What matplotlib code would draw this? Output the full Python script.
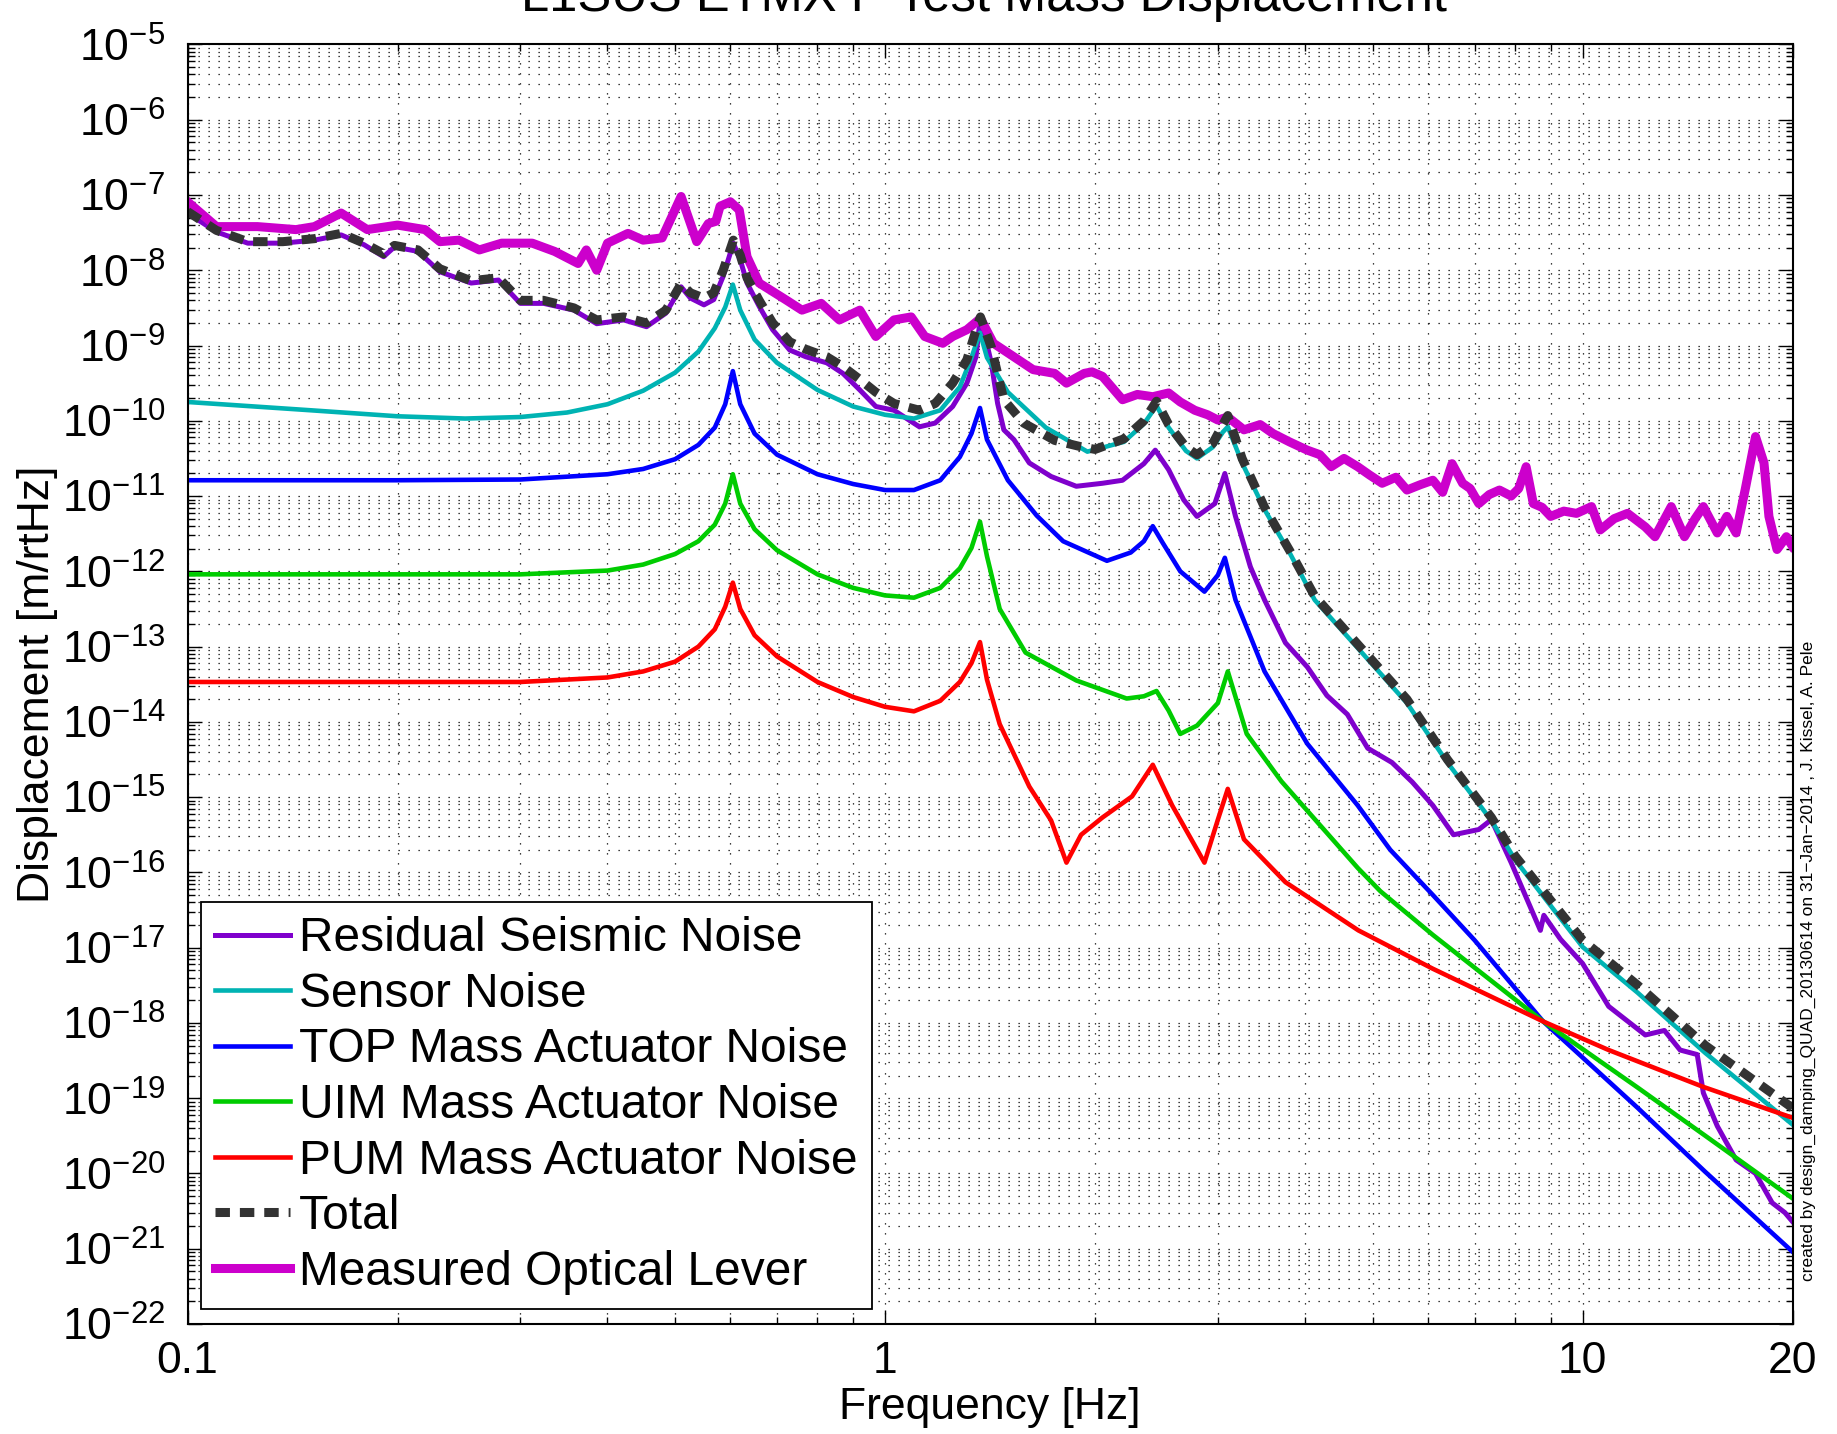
import matplotlib
matplotlib.use('Agg')
import matplotlib.pyplot as plt
import numpy as np
from matplotlib.ticker import FixedLocator, FuncFormatter, LogLocator, NullFormatter

# ---- data (log10 of displacement in m/rtHz) ----
seis_f = [0.1, 0.11, 0.122, 0.137, 0.152, 0.166, 0.179, 0.191, 0.198, 0.214,
          0.23, 0.255, 0.279, 0.30, 0.324, 0.358, 0.386, 0.422, 0.455, 0.485,
          0.51, 0.526, 0.55, 0.568, 0.586, 0.606, 0.62, 0.634, 0.66, 0.69,
          0.73, 0.77, 0.825, 0.87, 0.92, 0.97, 1.03, 1.12, 1.18, 1.25,
          1.31, 1.35, 1.37, 1.42, 1.45, 1.48, 1.53, 1.61, 1.73, 1.88,
          2.05, 2.19, 2.35, 2.44, 2.55, 2.68, 2.8, 2.97, 3.07, 3.18,
          3.34, 3.5, 3.75, 4.03, 4.3, 4.6, 4.92, 5.33, 5.7, 6.1,
          6.53, 7.1, 7.4, 7.9, 8.7, 8.8, 9.3, 10, 10.9, 12.3,
          13.1, 13.8, 14.6, 14.9, 15.6, 16.6, 17.7, 18.7, 19.5, 20]
seis_log = [-7.24, -7.49, -7.64, -7.64, -7.60, -7.53, -7.66, -7.82, -7.69, -7.75,
            -8.02, -8.17, -8.13, -8.44, -8.44, -8.53, -8.71, -8.66, -8.75, -8.57,
            -8.22, -8.37, -8.46, -8.39, -8.08, -7.64, -7.86, -8.17, -8.48, -8.79,
            -9.06, -9.15, -9.23, -9.37, -9.59, -9.81, -9.86, -10.08, -10.03, -9.81,
            -9.50, -9.15, -8.61, -9.23, -9.77, -10.12, -10.25, -10.56, -10.74, -10.87,
            -10.83, -10.79, -10.57, -10.39, -10.65, -11.05, -11.27, -11.10, -10.70, -11.27,
            -11.94, -12.38, -12.95, -13.27, -13.65, -13.90, -14.35, -14.54, -14.80, -15.11,
            -15.50, -15.43, -15.30, -15.87, -16.77, -16.57, -16.89, -17.21, -17.78, -18.16,
            -18.10, -18.36, -18.42, -18.93, -19.37, -19.82, -20.00, -20.39, -20.52, -20.64]

sens_f = [0.1, 0.15, 0.2, 0.25, 0.3, 0.35, 0.4, 0.45, 0.5, 0.54,
          0.57, 0.59, 0.605, 0.62, 0.65, 0.7, 0.8, 0.9, 1.0, 1.1,
          1.2, 1.28, 1.33, 1.368, 1.4, 1.5, 1.7, 1.95, 2.2, 2.35,
          2.45, 2.55, 2.7, 2.8, 2.95, 3.05, 3.1, 3.25, 3.5, 3.8,
          4.13, 5.6, 6.4, 7.4, 8.0, 10, 12, 15, 20]
sens_log = [-9.75, -9.86, -9.94, -9.97, -9.95, -9.89, -9.78, -9.60, -9.36, -9.08,
            -8.77, -8.49, -8.19, -8.53, -8.92, -9.23, -9.59, -9.81, -9.92, -9.97,
            -9.86, -9.55, -9.16, -8.83, -9.16, -9.62, -10.09, -10.41, -10.28, -10.04,
            -9.80, -10.09, -10.40, -10.50, -10.35, -10.15, -10.08, -10.56, -11.18, -11.75,
            -12.38, -13.75, -14.54, -15.31, -15.83, -16.99, -17.60, -18.40, -19.35]

top_f = [0.1, 0.2, 0.3, 0.4, 0.45, 0.5, 0.54, 0.57, 0.59, 0.605,
         0.62, 0.65, 0.7, 0.8, 0.9, 1.0, 1.1, 1.2, 1.28, 1.33,
         1.368, 1.4, 1.5, 1.65, 1.8, 2.08, 2.25, 2.35, 2.42, 2.5,
         2.65, 2.87, 3.0, 3.07, 3.18, 3.5, 4.03, 4.76, 5.3, 6.1,
         7.0, 8.78, 12, 15, 20]
top_log = [-10.79, -10.79, -10.78, -10.71, -10.64, -10.51, -10.32, -10.09, -9.78, -9.34,
           -9.78, -10.17, -10.45, -10.71, -10.84, -10.92, -10.92, -10.79, -10.48, -10.17,
           -9.83, -10.25, -10.79, -11.26, -11.60, -11.86, -11.75, -11.60, -11.40, -11.62,
           -12.00, -12.27, -12.05, -11.82, -12.38, -13.33, -14.29, -15.11, -15.70, -16.30,
           -16.90, -17.98, -19.13, -19.98, -21.04]

uim_f = [0.1, 0.2, 0.3, 0.4, 0.45, 0.5, 0.54, 0.57, 0.59, 0.605,
         0.62, 0.65, 0.7, 0.8, 0.9, 1.0, 1.1, 1.2, 1.28, 1.33,
         1.368, 1.4, 1.46, 1.59, 1.88, 2.22, 2.35, 2.45, 2.55, 2.65,
         2.8, 3.0, 3.1, 3.3, 3.7, 4.76, 5.13, 6.1, 8.78, 12,
         15, 20]
uim_log = [-12.04, -12.04, -12.04, -11.99, -11.91, -11.77, -11.60, -11.38, -11.10, -10.71,
           -11.10, -11.44, -11.72, -12.04, -12.22, -12.32, -12.35, -12.22, -11.96, -11.69,
           -11.34, -11.80, -12.50, -13.08, -13.45, -13.69, -13.66, -13.59, -13.85, -14.16,
           -14.05, -13.75, -13.33, -14.16, -14.79, -15.94, -16.25, -16.83, -17.98, -18.86,
           -19.50, -20.33]

pum_f = [0.1, 0.2, 0.3, 0.4, 0.45, 0.5, 0.54, 0.57, 0.59, 0.605,
         0.62, 0.65, 0.7, 0.8, 0.9, 1.0, 1.1, 1.2, 1.28, 1.33,
         1.368, 1.4, 1.46, 1.61, 1.73, 1.82, 1.91, 2.05, 2.26, 2.42,
         2.58, 2.87, 3.0, 3.1, 3.27, 3.75, 4.77, 6.1, 8.78, 10.9,
         14.9, 20]
pum_log = [-13.47, -13.47, -13.47, -13.41, -13.33, -13.20, -13.00, -12.77, -12.47, -12.15,
           -12.50, -12.85, -13.13, -13.47, -13.67, -13.80, -13.86, -13.72, -13.47, -13.22,
           -12.94, -13.44, -14.03, -14.86, -15.31, -15.87, -15.50, -15.27, -14.99, -14.57,
           -15.11, -15.87, -15.30, -14.89, -15.56, -16.13, -16.77, -17.28, -17.98, -18.36,
           -18.85, -19.26]

tot_f = [0.1, 0.11, 0.122, 0.137, 0.152, 0.166, 0.179, 0.191, 0.198, 0.214,
         0.23, 0.255, 0.279, 0.30, 0.324, 0.358, 0.386, 0.422, 0.455, 0.485,
         0.51, 0.526, 0.55, 0.568, 0.586, 0.606, 0.62, 0.634, 0.66, 0.69,
         0.73, 0.77, 0.825, 0.87, 0.92, 0.97, 1.03, 1.12, 1.18, 1.25,
         1.31, 1.36, 1.37, 1.42, 1.48, 1.58, 1.75, 1.9, 2.0, 2.2,
         2.35, 2.45, 2.55, 2.7, 2.8, 2.95, 3.05, 3.1, 3.25, 3.5,
         3.8, 4.13, 5.6, 6.4, 7.4, 8.0, 10, 12, 15, 20]
tot_log = [-7.22, -7.47, -7.62, -7.62, -7.58, -7.51, -7.64, -7.78, -7.67, -7.73,
           -7.98, -8.14, -8.10, -8.40, -8.40, -8.50, -8.66, -8.62, -8.70, -8.53,
           -8.18, -8.30, -8.37, -8.30, -8.00, -7.60, -7.80, -8.10, -8.40, -8.70,
           -8.95, -9.05, -9.15, -9.28, -9.45, -9.62, -9.77, -9.86, -9.77, -9.50,
           -9.19, -8.70, -8.62, -9.02, -9.72, -10.03, -10.26, -10.34, -10.38, -10.24,
           -10.00, -9.74, -10.05, -10.35, -10.45, -10.30, -10.05, -9.93, -10.50, -11.15,
           -11.72, -12.33, -13.70, -14.50, -15.27, -15.78, -16.90, -17.50, -18.30, -19.13]

olev_f = [0.1, 0.11, 0.126, 0.143, 0.152, 0.166, 0.181, 0.20, 0.219, 0.23,
          0.245, 0.262, 0.282, 0.312, 0.336, 0.363, 0.373, 0.386, 0.40, 0.428,
          0.45, 0.479, 0.51, 0.537, 0.558, 0.572, 0.58, 0.60, 0.618, 0.634,
          0.66, 0.72, 0.76, 0.81, 0.86, 0.92, 0.97, 1.03, 1.09, 1.14,
          1.21, 1.25, 1.31, 1.37, 1.43, 1.53, 1.63, 1.75, 1.82, 1.93,
          1.98, 2.05, 2.19, 2.3, 2.42, 2.55, 2.65, 2.78, 2.9, 3.0,
          3.1, 3.27, 3.45, 3.6, 3.8, 4.03, 4.2, 4.36, 4.55, 4.76,
          4.95, 5.16, 5.4, 5.6, 5.85, 6.1, 6.3, 6.5, 6.73, 6.9,
          7.1, 7.35, 7.6, 7.9, 8.1, 8.3, 8.5, 8.75, 9.0, 9.4,
          9.8, 10.3, 10.6, 11.1, 11.6, 12.3, 12.7, 13.4, 14.0, 14.5,
          14.9, 15.6, 16.1, 16.6, 17.1, 17.7, 18.2, 18.5, 19.0, 19.6,
          20]
olev_log = [-7.09, -7.42, -7.42, -7.46, -7.42, -7.24, -7.46, -7.40, -7.46, -7.62,
            -7.60, -7.73, -7.64, -7.64, -7.75, -7.91, -7.73, -8.00, -7.64, -7.51,
            -7.60, -7.57, -7.02, -7.62, -7.38, -7.35, -7.15, -7.09, -7.20, -7.82,
            -8.17, -8.39, -8.53, -8.44, -8.66, -8.53, -8.88, -8.66, -8.62, -8.88,
            -8.97, -8.88, -8.79, -8.64, -8.97, -9.15, -9.32, -9.37, -9.50, -9.37,
            -9.35, -9.41, -9.72, -9.65, -9.68, -9.63, -9.75, -9.86, -9.92, -9.99,
            -9.95, -10.12, -10.05, -10.17, -10.28, -10.39, -10.45, -10.61, -10.50, -10.61,
            -10.72, -10.83, -10.75, -10.92, -10.85, -10.79, -10.95, -10.57, -10.83, -10.90,
            -11.10, -10.98, -10.92, -11.00, -10.90, -10.61, -11.10, -11.15, -11.27, -11.20,
            -11.23, -11.14, -11.45, -11.30, -11.23, -11.41, -11.54, -11.14, -11.54, -11.30,
            -11.14, -11.49, -11.27, -11.49, -10.92, -10.21, -10.56, -11.27, -11.71, -11.54,
            -11.67]

labels = ['Residual Seismic Noise', 'Sensor Noise', 'TOP Mass Actuator Noise',
          'UIM Mass Actuator Noise', 'PUM Mass Actuator Noise', 'Total',
          'Measured Optical Lever']
x_ticks = [0.1, 1, 10, 20]
x_ticklabels = ['0.1', '1', '10', '20']

# ---- style ----
plt.rcParams['font.family'] = ['Liberation Sans', 'DejaVu Sans']
plt.rcParams['mathtext.fontset'] = 'custom'
plt.rcParams['mathtext.rm'] = 'Liberation Sans'
plt.rcParams['mathtext.it'] = 'Liberation Sans:italic'
plt.rcParams['mathtext.bf'] = 'Liberation Sans:bold'

fig = plt.figure(figsize=(18.37, 14.34), dpi=100)
ax = fig.add_axes([0.1021, 0.0767, 0.8737, 0.8923])


def pw(v):
    return 10.0 ** np.array(v)


ax.loglog(seis_f, pw(seis_log), color='#7f00cc', lw=3.6, label=labels[0])
ax.loglog(sens_f, pw(sens_log), color='#00b3b3', lw=3.3, label=labels[1])
ax.loglog(top_f, pw(top_log), color='#0000ff', lw=3.3, label=labels[2])
ax.loglog(uim_f, pw(uim_log), color='#00cc00', lw=3.3, label=labels[3])
ax.loglog(pum_f, pw(pum_log), color='#ff0000', lw=3.3, label=labels[4])
ax.loglog(olev_f, pw(olev_log), color='#cc00cc', lw=6.5, label=labels[6])
ax.loglog(tot_f, pw(tot_log), color='#333333', lw=6.5,
          dashes=(1.6, 1.1), dash_capstyle='butt', label=labels[5])

ax.set_xlim(0.1, 20)
ax.set_ylim(1e-22, 1e-5)

ax.xaxis.set_major_locator(FixedLocator(x_ticks))
ax.set_xticklabels(x_ticklabels)
ax.xaxis.set_minor_locator(FixedLocator([0.2, 0.3, 0.4, 0.5, 0.6, 0.7, 0.8, 0.9,
                                         2, 3, 4, 5, 6, 7, 8, 9]))
ax.xaxis.set_minor_formatter(NullFormatter())
ax.yaxis.set_major_locator(FixedLocator([10.0 ** k for k in range(-22, -4)]))
ax.yaxis.set_major_formatter(FuncFormatter(lambda v, p: r'$10^{%d}$' % round(np.log10(v))))
ax.yaxis.set_minor_locator(LogLocator(base=10, subs=np.arange(2, 10), numticks=200))
ax.yaxis.set_minor_formatter(NullFormatter())

ax.tick_params(which='both', direction='in', top=True, right=True, width=1)
ax.tick_params(which='major', length=10, labelsize=32)
ax.tick_params(which='minor', length=5)
ax.tick_params(axis='x', which='major', pad=12)
ax.tick_params(axis='y', which='major', pad=16)
for s in ax.spines.values():
    s.set_linewidth(1.5)

ax.grid(True, which='both', color='k', linestyle=(0, (1, 7)), linewidth=0.9)

ax.set_xlabel('Frequency [Hz]', fontsize=32)
ax.xaxis.set_label_coords(0.5, -0.049)
ax.set_ylabel('Displacement [m/rtHz]', fontsize=32)
ax.yaxis.set_label_coords(-0.081, 0.5)

handles, labs = ax.get_legend_handles_labels()
order = [labels.index(l) for l in labs]
handles = [h for _, h in sorted(zip(order, handles), key=lambda t: t[0])]
leg = ax.legend(handles, labels, loc='lower left', bbox_to_anchor=(0.0084, 0.0117),
                borderaxespad=0, fontsize=34.5, handlelength=1.55, handletextpad=0.2,
                borderpad=0.3, labelspacing=0.22, fancybox=False, framealpha=1,
                edgecolor='k')
leg.get_frame().set_linewidth(1.3)

fig.text(984 / 1837, 1 - 11 / 1434, 'L1SUS ETMX P Test Mass Displacement',
         ha='center', va='baseline', fontsize=36.5)
fig.text(1808 / 1837, 1 - 961 / 1434,
         'created by design_damping_QUAD_20130614 on 31\u2212Jan\u22122014 , J. Kissel, A. Pele',
         rotation=90, ha='center', va='center', fontsize=12.5)

fig.savefig('out.png', dpi=100)
